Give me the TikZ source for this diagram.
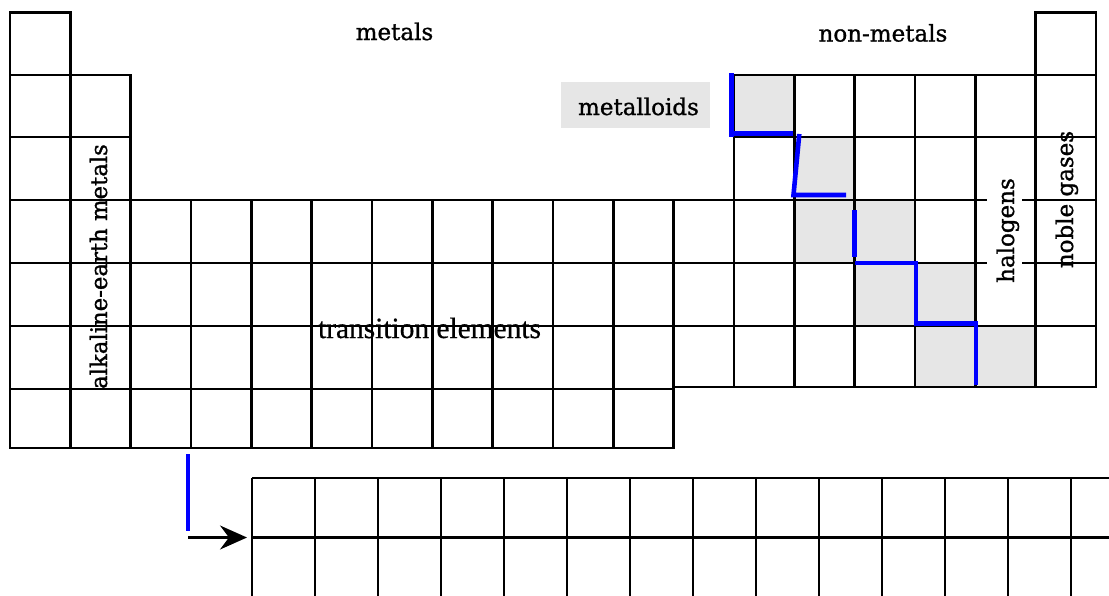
\documentclass[tikz,border=0pt]{standalone}
\usepackage{fontspec}
\newfontfamily\labfont[FakeBold=1.2]{DejaVu Serif}
\newfontfamily\timfont[FakeBold=0.6]{Liberation Serif}
\usetikzlibrary{arrows.meta}
\definecolor{metgray}{RGB}{230,230,230}
\begin{document}
\begin{tikzpicture}[x=1pt,y=-1pt,
  gridline/.style={line width=2.8pt, black},
  blueline/.style={line width=4.6pt, blue},
  lab/.style={font=\labfont\fontsize{23}{23}\selectfont, inner sep=0pt, anchor=base},
  tim/.style={font=\timfont\fontsize{29.4}{29.4}\selectfont, inner sep=0pt, anchor=base},
  cellfill/.style={fill=metgray}]
\useasboundingbox (0,0) rectangle (1109,595);
\clip (0,0) rectangle (1109,595);
\fill[white] (0,0) rectangle (1109,595);
% metalloid shading
\foreach \c/\ya/\yb in {13/75/137, 14/137/200, 14/200/263, 15/200/263, 15/263/326, 16/263/326, 16/326/388, 17/326/388}
  \fill[cellfill] ({10+60.33*(\c-1)},\ya) rectangle ({10+60.33*\c},\yb);
% main table cells
\foreach \ya/\yb/\cols in {12.5/75/{1,18}, 75/137/{1,2,13,14,15,16,17,18}, 137/200/{1,2,13,14,15,16,17,18},
   200/263/{1,...,18}, 263/326/{1,...,18}}
  \foreach \c in \cols
    \draw[gridline] ({10+60.33*(\c-1)},\ya) rectangle ({10+60.33*\c},\yb);
\foreach \c in {1,...,11}
  \draw[gridline] ({10+60.33*(\c-1)},326) rectangle ({10+60.33*\c},389);
\foreach \c in {12,...,18}
  \draw[gridline] ({10+60.33*(\c-1)},326) rectangle ({10+60.33*\c},387);
\foreach \c in {1,...,11}
  \draw[gridline] ({10+60.33*(\c-1)},389) rectangle ({10+60.33*\c},448);
% lanthanide / actinide block
\draw[gridline, line width=2.2pt] (252,478) -- (1115,478);
\draw[gridline, line width=3.2pt] (252,537.5) -- (1115,537.5);
\foreach \k in {0,...,14}
  \draw[gridline, line width=2.5pt] ({252+63*\k},478) -- ({252+63*\k},600);
% white box behind halogens
\fill[white] (987,138.8) rectangle (1022,292);
% metalloid boundary
\draw[blueline] (731.5,73) -- (731.5,137);
\draw[blueline] (731.5,133.5) -- (793,133.5);
\draw[blueline] (799.3,134) -- (793.5,195) -- (846,195);
\draw[blueline] (854.3,210) -- (854.3,257);
\draw[blueline] (855,263) -- (916,263) -- (916,323.5) -- (976,323.5) -- (976,385);
% arrow to lower block
\coordinate (arrTop) at (188,454);
\coordinate (arrBot) at (188,531);
\coordinate (arrS) at (188,537.5);
\coordinate (arrE) at (247,537.5);
\draw[blueline, line width=4pt] (arrTop) -- (arrBot);
\draw[line width=2.2pt, -{Stealth[length=27pt, width=24pt, inset=9pt]}] (arrS) -- (arrE);
% labels
\fill[metgray] (561,82) rectangle (710,128);
\node[lab] (metals) at (394.5,40) {metals};
\node[lab] (nonmetals) at (883,41.5) {non-metals};
\node[lab] (metalloids) at (638.5,115) {metalloids};
\node[lab, rotate=90, font=\labfont\fontsize{22.8}{22.8}\selectfont] (alkaline) at (107,266.5) {alkaline-earth metals};
\node[lab, rotate=90] (halogens) at (1014,230.5) {halogens};
\node[lab, rotate=90] (noble) at (1073,199.5) {noble gases};
\node[tim] (transition) at (429.5,338) {transition elements};
\end{tikzpicture}
\end{document}
